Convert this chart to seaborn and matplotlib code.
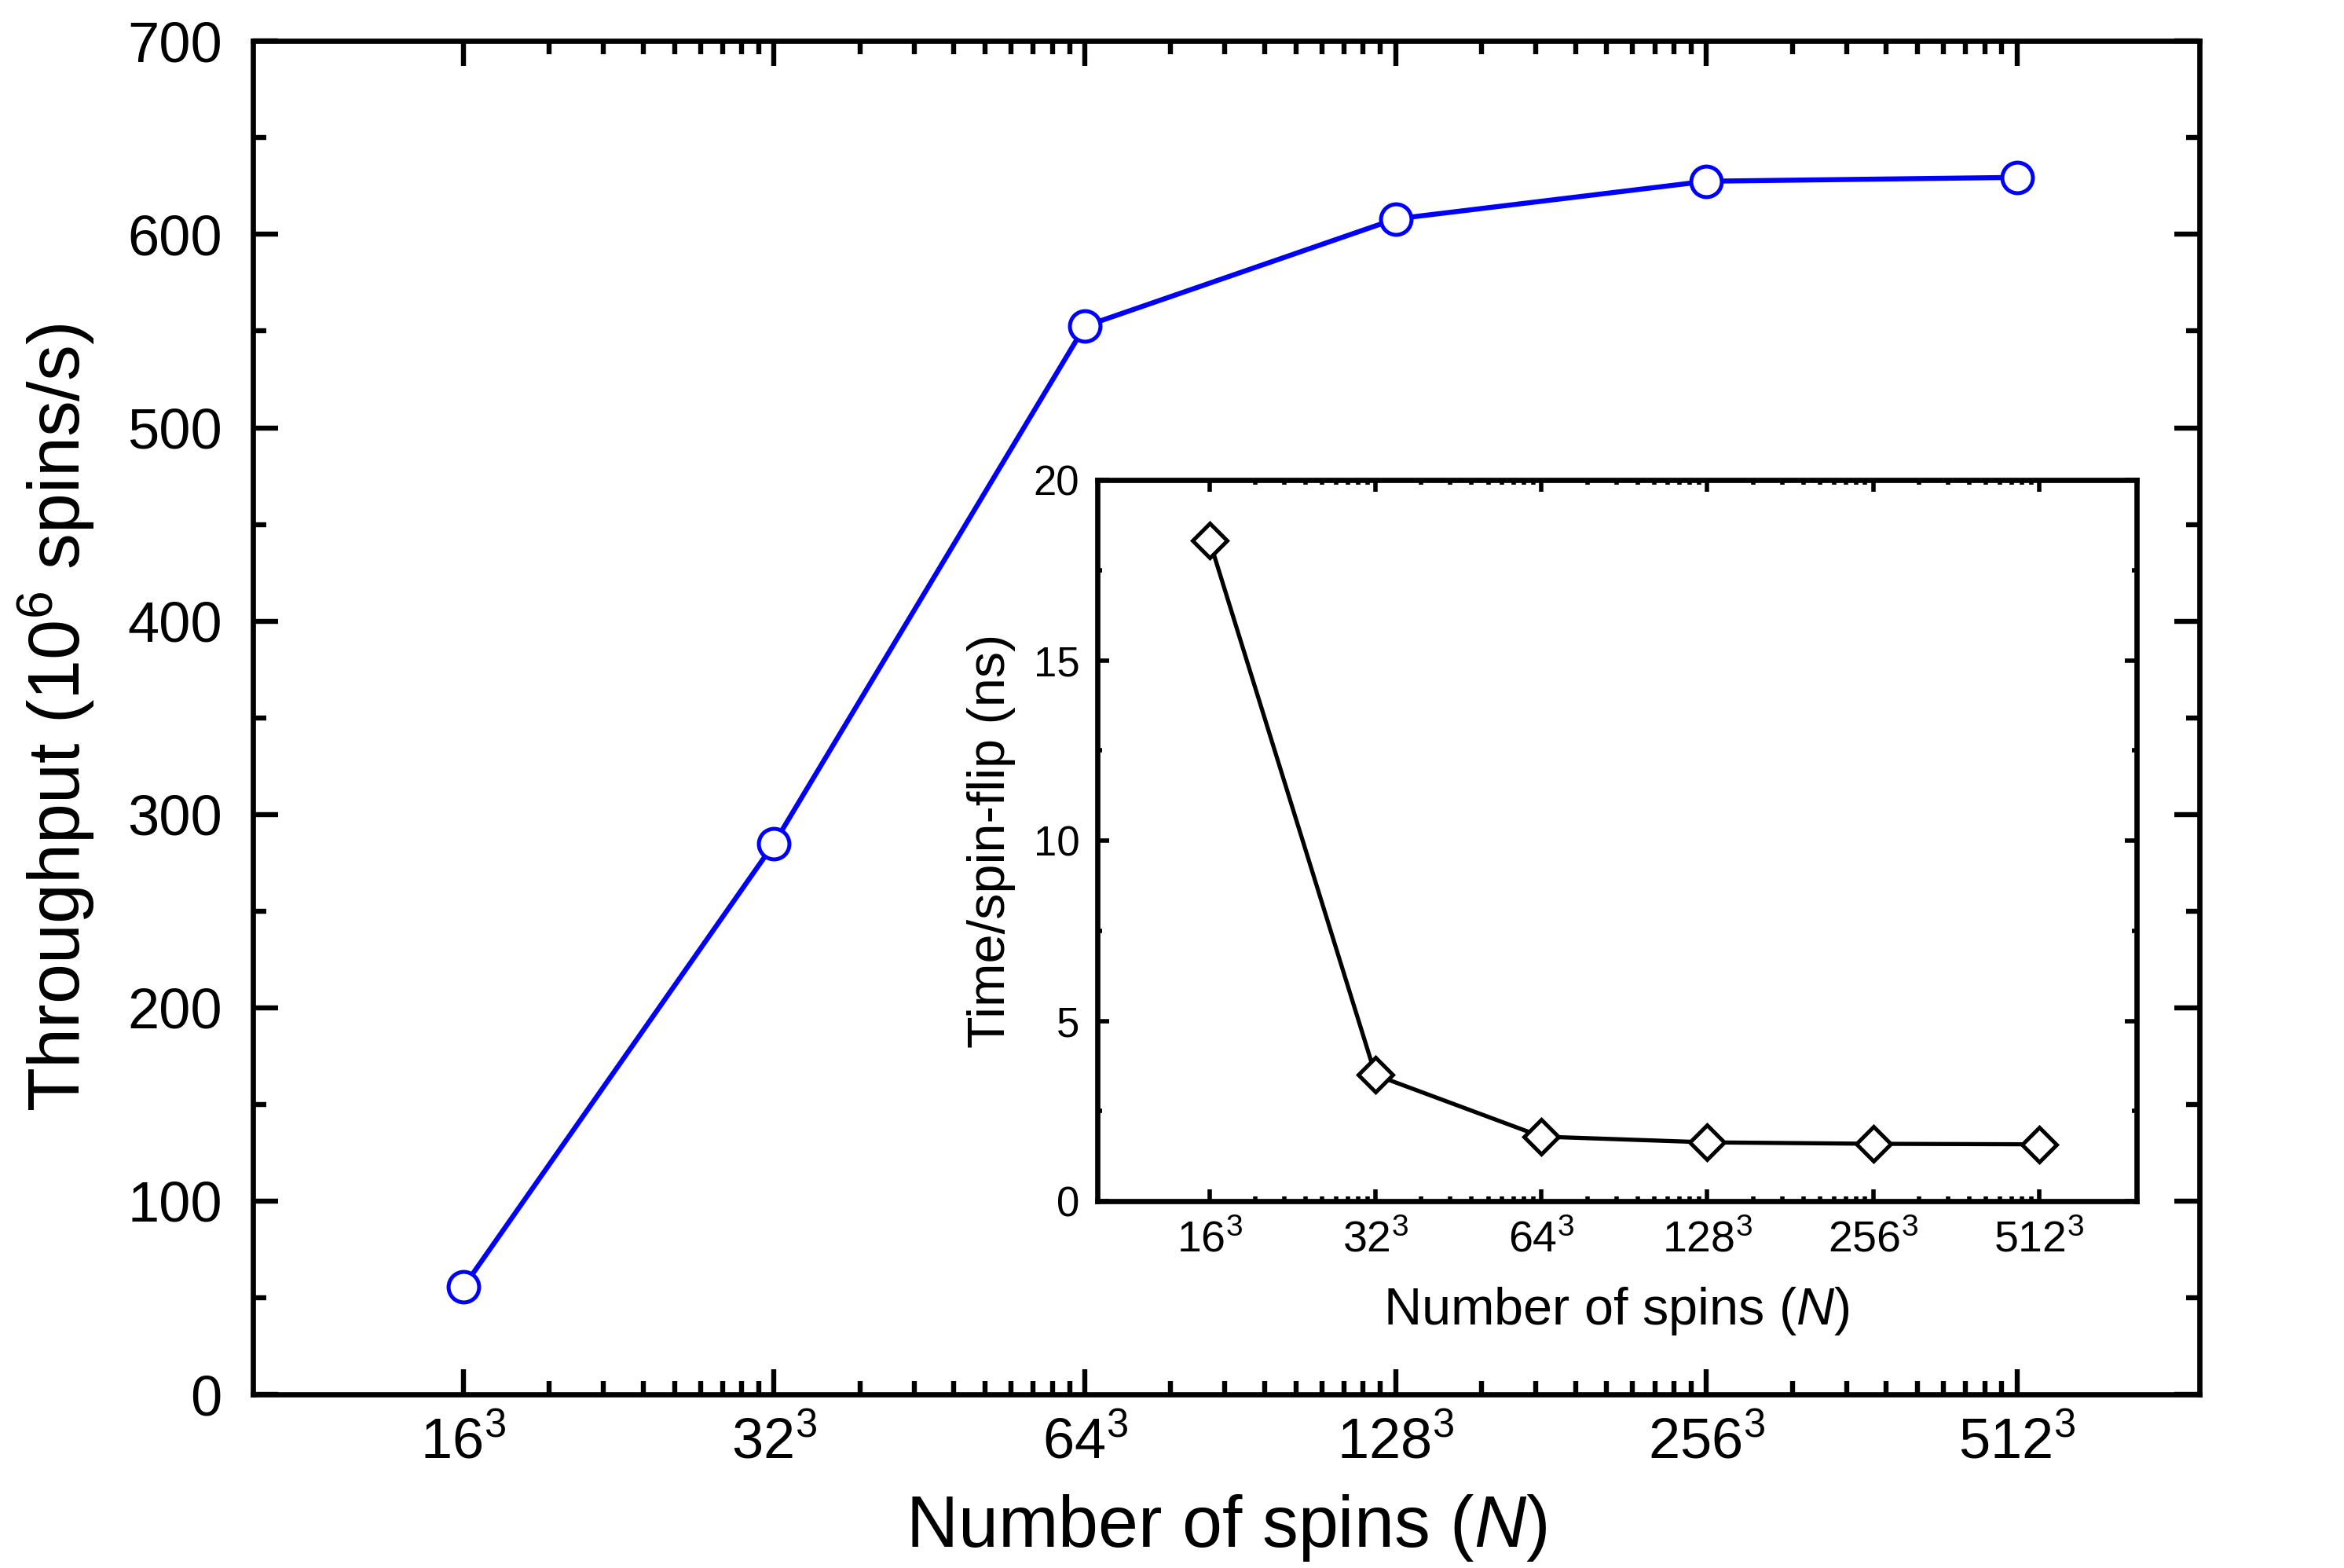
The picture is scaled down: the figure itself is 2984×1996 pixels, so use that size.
import numpy as np
import pandas as pd
import matplotlib
matplotlib.use("Agg")
import matplotlib.pyplot as plt
import matplotlib.ticker as mticker
import seaborn as sns

# ---- data ----
L_sizes = [16, 32, 64, 128, 256, 512]
tick_labels = ["16$^3$", "32$^3$", "64$^3$", "128$^3$", "256$^3$", "512$^3$"]
throughput = [55.5, 285.0, 552.5, 608.0, 627.5, 629.5]      # 10^6 spins/s
time_per_flip = [18.33, 3.50, 1.79, 1.63, 1.59, 1.575]       # ns

N_values = [L ** 3 for L in L_sizes]
df = pd.DataFrame({"N": N_values, "throughput": throughput, "tpf": time_per_flip})

sns.set_style("ticks")
plt.rcParams["font.family"] = ["Liberation Sans", "DejaVu Sans"]
plt.rcParams["mathtext.fontset"] = "custom"
plt.rcParams["mathtext.rm"] = "Liberation Sans"
plt.rcParams["mathtext.it"] = "Liberation Sans:italic"
plt.rcParams["mathtext.bf"] = "Liberation Sans:bold"
for k in ["text.color", "axes.labelcolor", "xtick.color", "ytick.color", "axes.edgecolor"]:
    plt.rcParams[k] = "black"

fig = plt.figure(figsize=(14.92, 9.98), dpi=200)
ax = fig.add_axes([0.1078, 0.1107, 0.8305, 0.8631])

XMIN, XMAX = 1000, 4.55e8


def minor_positions(majors):
    out = []
    for a, b in zip(majors[:-1], majors[1:]):
        for j in range(1, 9):
            out.append(a + (b - a) * j / 9.0)
    return out


def style_xaxis(a, labelsize, maj_len, min_len, width, pad):
    a.set_xscale("log", base=2)
    a.set_xlim(XMIN, XMAX)
    a.xaxis.set_major_locator(mticker.FixedLocator(N_values))
    a.xaxis.set_major_formatter(mticker.FixedFormatter(tick_labels))
    a.xaxis.set_minor_locator(mticker.FixedLocator(minor_positions(N_values)))
    a.xaxis.set_minor_formatter(mticker.NullFormatter())
    a.tick_params(axis="both", which="both", direction="in", top=True, right=True,
                  width=width, color="black", labelcolor="black")
    a.tick_params(axis="both", which="major", length=maj_len, labelsize=labelsize, pad=pad)
    a.tick_params(axis="both", which="minor", length=min_len)
    for s in a.spines.values():
        s.set_linewidth(2.4)
        s.set_color("black")


# ---- main plot ----
sns.lineplot(data=df, x="N", y="throughput", ax=ax, color="#0000ff", linewidth=2.3,
             marker="o", markersize=14, markerfacecolor="white",
             markeredgecolor="#0000ff", markeredgewidth=1.8, zorder=3)
style_xaxis(ax, 26, 11.5, 6, 2.3, 10)
ax.set_ylim(0, 700)
ax.yaxis.set_major_locator(mticker.MultipleLocator(100))
ax.yaxis.set_minor_locator(mticker.MultipleLocator(50))
ax.tick_params(axis="y", which="major", pad=14)
ax.set_xlabel("Number of spins ($\\mathit{N}$)", fontsize=33, labelpad=10.5)
ax.set_ylabel("Throughput (10$^{6}$ spins/s)", fontsize=33, labelpad=14)

# ---- inset ----
axin = fig.add_axes([0.468, 0.234, 0.4435, 0.4597])
axin.set_facecolor("white")
sns.lineplot(data=df, x="N", y="tpf", ax=axin, color="black", linewidth=1.9,
             marker="D", markersize=11, markerfacecolor="white",
             markeredgecolor="black", markeredgewidth=1.8, zorder=3)
style_xaxis(axin, 20, 5.4, 2.2, 2.0, 6)
axin.tick_params(axis="x", which="major", pad=9)
axin.set_ylim(0, 20)
axin.yaxis.set_major_locator(mticker.MultipleLocator(5))
axin.yaxis.set_minor_locator(mticker.MultipleLocator(2.5))
axin.tick_params(axis="y", which="major", pad=8, labelsize=19)
axin.set_xlabel("Number of spins ($\\mathit{N}$)", fontsize=24, labelpad=11)
axin.set_ylabel("Time/spin-flip (ns)", fontsize=24, labelpad=8)

fig.savefig("out.png", dpi=200, facecolor="white")
